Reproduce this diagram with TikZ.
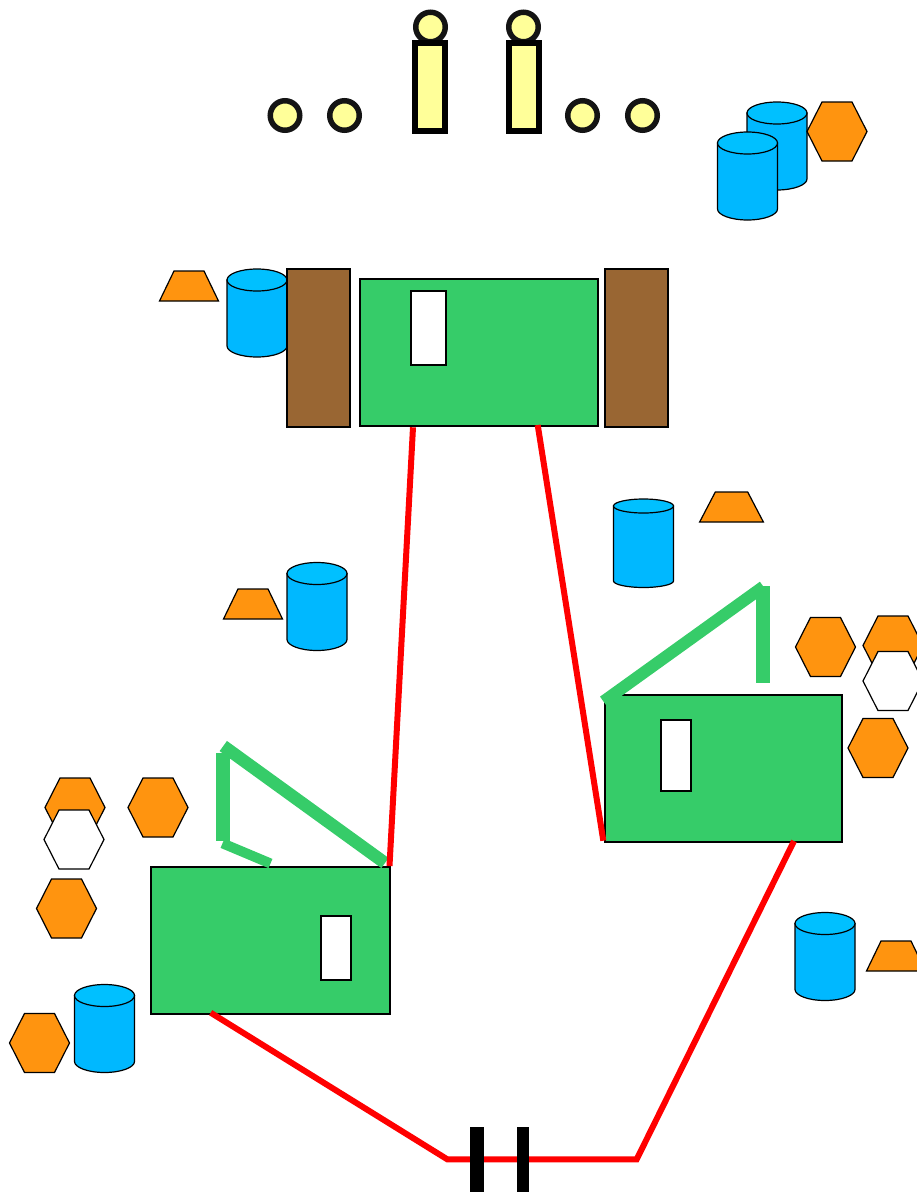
\documentclass[tikz,border=0pt]{standalone}
\definecolor{fillgreen}{HTML}{36CC69}
\definecolor{fillbrown}{HTML}{996633}
\definecolor{fillorange}{HTML}{FF940F}
\definecolor{fillblue}{HTML}{00B8FF}
\definecolor{fillbluetop}{HTML}{00C0FF}
\definecolor{fillyellow}{HTML}{FFFF99}
\definecolor{ringdark}{HTML}{141414}
\tikzset{
  outline/.style={draw=black,line width=1.2pt},
  greenbox/.style={outline,fill=fillgreen,rectangle,inner sep=0pt},
  brownbox/.style={outline,fill=fillbrown,rectangle,inner sep=0pt},
  whitebox/.style={outline,fill=white,rectangle,inner sep=0pt},
  ring/.style={draw=ringdark,fill=fillyellow,line width=5.5pt,circle,inner sep=0pt,minimum size=29.5pt},
  post/.style={draw=black,fill=fillyellow,line width=6pt,rectangle,inner sep=0pt,minimum width=30pt,minimum height=88pt},
  redline/.style={draw=red,line width=6pt,line join=miter},
  greenline/.style={draw=fillgreen,line width=12.5pt},
  barnode/.style={fill=black,rectangle,inner sep=0pt},
  pics/hexa/.style={code={
    \draw[outline,fill=#1] (-30,0) -- (-15,-29.5) -- (15,-29.5) -- (30,0) -- (15,29.5) -- (-15,29.5) -- cycle;
  }},
  pics/trap/.style={code={
    \draw[outline,fill=fillorange] (-29.5,15) -- (-15,-15) -- (15,-15) -- (29.5,15) -- cycle;
  }},
  pics/cyl/.style={code={
    \draw[outline,fill=fillblue] (-30,11) -- (-30,77)
      .. controls (-30,83) and (-16.5,88) .. (0,88)
      .. controls (16.5,88) and (30,83) .. (30,77) -- (30,11) -- cycle;
    \draw[outline,fill=fillbluetop] (0,11) ellipse [x radius=30pt,y radius=11pt];
  }},
  pics/cylflat/.style={code={
    \draw[outline,fill=fillblue] (-30,7) -- (-30,82)
      .. controls (-30,85.5) and (-16.5,88.5) .. (0,88.5)
      .. controls (16.5,88.5) and (30,85.5) .. (30,82) -- (30,7) -- cycle;
    \draw[outline,fill=fillbluetop] (0,7) ellipse [x radius=30pt,y radius=7pt];
  }}
}
\begin{document}
\begin{tikzpicture}[x=1pt,y=-1pt]
\clip[use as bounding box] (0,0) rectangle (917,1192);

% top figures
\node[ring] (r1) at (285,115.5) {};
\node[ring] (r2) at (344.5,115.5) {};
\node[ring] (r3) at (582.5,115.5) {};
\node[ring] (r4) at (642.5,115.5) {};
\node[ring] (h1) at (430.5,27) {};
\node[ring] (h2) at (523.5,27) {};
\node[post] (p1) at (430,86.5) {};
\node[post] (p2) at (523.5,86.5) {};

% upper right cluster
\pic (cb1) at (777,102) {cyl};
\pic (cb2) at (747.5,132) {cyl};
\pic (hx1) at (837,131.5) {hexa=fillorange};

% top machine
\pic (tr1) at (189,286) {trap};
\pic (cb3) at (257,269) {cyl};
\node[brownbox,minimum width=63pt,minimum height=158pt] (bl) at (318.5,348) {};
\node[brownbox,minimum width=63pt,minimum height=158pt] (br) at (636.5,348) {};
\node[greenbox,minimum width=238pt,minimum height=147pt] (gt) at (479,352.5) {};
\node[whitebox,minimum width=35pt,minimum height=74pt] (wt) at (428.5,328) {};

% middle items
\pic (cb4) at (643.5,499) {cylflat};
\pic[xscale=1.08] (tr2) at (731.5,507) {trap};
\pic (tr3) at (253,604) {trap};
\pic (cb5) at (317,562.5) {cyl};

% right cluster
\pic (hx2) at (825.5,647) {hexa=fillorange};
\pic (hx3) at (893,645.5) {hexa=fillorange};
\pic (hx4) at (893,681) {hexa=white};
\pic (hx5) at (878,748) {hexa=fillorange};

% left cluster
\pic (hx6) at (75,807.5) {hexa=fillorange};
\pic (hx7) at (74,839.5) {hexa=white};
\pic (hx8) at (158,807.5) {hexa=fillorange};
\pic (hx9) at (66.5,908.5) {hexa=fillorange};
\pic (hx10) at (39.5,1043) {hexa=fillorange};
\pic (cb6) at (104.5,984.5) {cyl};

% lower right items
\pic (cb7) at (825,912.5) {cyl};
\pic (tr4) at (896,956) {trap};

% lower machines
\node[greenbox,minimum width=237pt,minimum height=147pt] (gr) at (723.5,768.5) {};
\node[whitebox,minimum width=30pt,minimum height=71pt] (wr) at (676,755.5) {};
\node[greenbox,minimum width=239pt,minimum height=147pt] (gl) at (270.5,940.5) {};
\node[whitebox,minimum width=30pt,minimum height=64pt] (wl) at (336,948) {};

% green levers
\coordinate (gl1) at (223,752.7);
\coordinate (gl2) at (223,840.7);
\coordinate (gl3) at (222.5,843.3);
\coordinate (gl4) at (270.5,863.5);
\coordinate (gl5) at (223.3,746);
\coordinate (gl6) at (385,863);
\coordinate (gr1) at (603.5,701.5);
\coordinate (gr2) at (763.4,586.6);
\coordinate (gr3) at (763,586);
\coordinate (gr4) at (763,682.7);
\draw[greenline,line width=14pt] (gl1) -- (gl2);
\draw[greenline,line width=10pt] (gl3) -- (gl4);
\draw[greenline] (gl5) -- (gl6);
\draw[greenline,line width=12pt] (gr1) -- (gr2);
\draw[greenline,line width=14pt] (gr3) -- (gr4);

% red links
\coordinate (a1) at (413,427.3);
\coordinate (a2) at (389.5,866);
\coordinate (b1) at (537.7,425);
\coordinate (b2) at (603.3,840.7);
\coordinate (c1) at (210.7,1012.7);
\coordinate (c2) at (447.3,1159.3);
\coordinate (c3) at (636.7,1159.3);
\coordinate (c4) at (794,841);
\draw[redline] (a1) -- (a2);
\draw[redline] (b1) -- (b2);
\draw[redline] (c1) -- (c2) -- (c3) -- (c4);

% capacitor bars
\node[barnode,minimum width=14pt,minimum height=65pt] (bar1) at (477,1159.5) {};
\node[barnode,minimum width=12pt,minimum height=65pt] (bar2) at (523,1159.5) {};
\end{tikzpicture}
\end{document}
